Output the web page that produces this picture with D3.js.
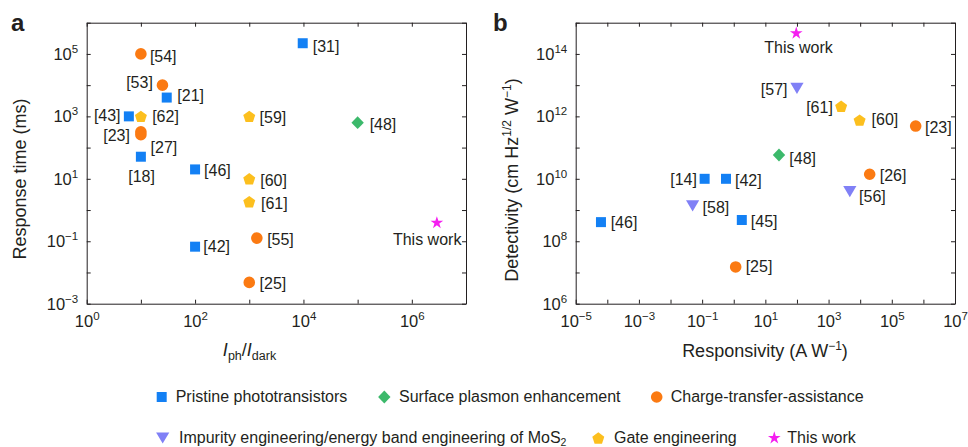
<!DOCTYPE html>
<html><head><meta charset="utf-8">
<script src="https://cdn.jsdelivr.net/npm/d3@7"></script>
<style>
body{margin:0;background:#fff}
svg{display:block}
text{font-family:"Liberation Sans",Arial,Helvetica,sans-serif;fill:#231f20}
</style>
</head><body><svg id="c" width="968" height="447"></svg>
<script>
// ---------- DATA ----------
// Panel a: Iph/Idark vs response time (ms)
const aRefs   = ["[31]","[54]","[53]","[21]","[43]","[62]","[23]","[27]","[18]","[46]","[59]","[48]","[60]","[61]","This work","[55]","[42]","[25]"];
const aGroups = ["pristine","charge","charge","pristine","pristine","gate","charge","charge","pristine","pristine","gate","plasmon","gate","gate","this","charge","pristine","charge"];
const aRatio  = [9.7e3, 10, 25, 30, 6, 10, 10, 10, 10, 100, 1000, 1e5, 1000, 1000, 2.9e6, 1380, 100, 1000];
const aTime   = [2.2e5, 1e5, 1e4, 4e3, 1e3, 1e3, 320, 260, 51, 20, 1e3, 630, 10, 1.85, 0.39, 0.126, 0.067, 0.0048];

// Panel b: responsivity (A/W) vs detectivity (Jones)
const bRefs   = ["This work","[57]","[61]","[60]","[23]","[48]","[26]","[56]","[14]","[42]","[58]","[46]","[45]","[25]"];
const bGroups = ["this","impurity","gate","gate","charge","plasmon","charge","impurity","pristine","pristine","impurity","pristine","pristine","charge"];
const bResp   = [95, 100, 2.5e3, 9.6e3, 5.7e5, 27, 2.0e4, 4.7e3, 0.12, 0.57, 0.05, 6.3e-5, 1.8, 1.15];
const bDet    = [4.6e14, 7.9e12, 2.1e12, 7.6e11, 4.9e11, 5.8e10, 1.4e10, 3.9e9, 1e10, 1e10, 1.35e9, 4.1e8, 4.8e8, 1.5e7];

// Tick exponents
const aXExp = [0,1,2,3,4,5,6,7], aXLab = [0,2,4,6];
const aYExp = [-3,-2,-1,0,1,2,3,4,5,6], aYLab = [-3,-1,1,3,5];
const bXExp = [-5,-4,-3,-2,-1,0,1,2,3,4,5,6,7], bXLab = [-5,-3,-1,1,3,5,7];
const bYExp = [6,7,8,9,10,11,12,13,14,15], bYLab = [6,8,10,12,14];

// Legend
const legendKeys  = ["pristine","plasmon","charge","impurity","gate","this"];
const legendNames = ["Pristine phototransistors","Surface plasmon enhancement","Charge-transfer-assistance","Impurity engineering/energy band engineering of MoS","Gate engineering","This work"];

// ---------- LAYOUT / STYLE ----------
const aLabDx = [10,9,-9.6,10.6,-8.3,11.3,-11,9.7,0.7,9,10.3,12,11,11.7,-9.7,10.3,8.3,10.3];
const aLabDy = [3,2.7,-2.6,-1.7,-1,0.4,4,12.4,20,1,1,1.3,1.7,2,16.6,1.3,0,1];
const aLabAn = ["start","start","end","start","end","start","end","start","middle","start","start","start","start","start","middle","start","start","start"];
const bLabDx = [2.3,-9.4,-8.3,12,9.3,10.3,10,9.3,-7.7,9,10,9.7,9,10];
const bLabDy = [14,1,0.7,-0.7,1.7,3.7,0.7,5,0.7,1.4,1,0.7,1.7,-0.6];
const bLabAn = ["middle","end","end","start","start","start","start","start","end","start","start","start","start","start"];
const legendX = [161.7,384.3,656.7,162.7,598.3,774.3];
const legendTX = [175.7,399,670.7,179,614,787.3];
const legendY = [397,397,397,438,438,438];

const colors = {pristine:"#1380f4",plasmon:"#3cb96b",charge:"#fb7a12",impurity:"#8080f6",gate:"#fcbf1e",this:"#f51ef0"};

function shape(g){
  switch(g){
    case "pristine": return "M-5,-5H5V5H-5Z";
    case "plasmon": return "M0,-6.4L6.2,0L0,6.4L-6.2,0Z";
    case "charge": return d3.symbol(d3.symbolCircle, 106)();
    case "impurity": return "M-6.6,-5.6L6.6,-5.6L0,5.6Z";
    case "gate": {
      const R=6.3, pts=[];
      for(let i=0;i<5;i++){const a=-Math.PI/2+i*2*Math.PI/5; pts.push([R*Math.cos(a), R*Math.sin(a)+0.6]);}
      return "M"+pts.map(p=>p.map(v=>v.toFixed(2)).join(",")).join("L")+"Z";
    }
    case "this": return d3.symbol(d3.symbolStar, 50)();
  }
}

const svg = d3.select("#c");
svg.append("rect").attr("width",968).attr("height",447).attr("fill","#fff");

function pow(sel, e, sup){
  sel.text("10").append("tspan").attr("dy", -7).attr("font-size", sup).text(String(e).replace("-", "\u2212"));
}

function panel(opt){
  const g = svg.append("g");
  const x = d3.scaleLog().domain(opt.xd).range(opt.xr);
  const y = d3.scaleLog().domain(opt.yd).range(opt.yr);
  const xt = opt.xExp.map(e=>Math.pow(10,e)), yt = opt.yExp.map(e=>Math.pow(10,e));

  const bot = g.append("g").attr("transform",`translate(0,${opt.yr[0]})`)
    .call(d3.axisBottom(x).tickValues(xt).tickSizeInner(-4).tickSizeOuter(0).tickFormat(()=>""));
  bot.selectAll(".tick text").each(function(d){
    const e = Math.round(Math.log10(d));
    if(opt.xLab.includes(e)){
      const t = d3.select(this).attr("y",23).attr("dy",null).attr("font-size","16.5px").attr("fill","#231f20");
      pow(t, e, "11.5px");
    }
  });
  g.append("g").attr("transform",`translate(0,${opt.yr[1]})`)
    .call(d3.axisTop(x).tickValues(xt).tickSizeInner(-4).tickSizeOuter(0).tickFormat(()=>""));
  const lef = g.append("g").attr("transform",`translate(${opt.xr[0]},0)`)
    .call(d3.axisLeft(y).tickValues(yt).tickSizeInner(-4).tickSizeOuter(0).tickFormat(()=>""));
  lef.selectAll(".tick text").each(function(d){
    const e = Math.round(Math.log10(d));
    if(opt.yLab.includes(e)){
      const t = d3.select(this).attr("x",-8.5).attr("dy",null).attr("y",5.5).attr("font-size","16.5px").attr("fill","#231f20").attr("text-anchor","end");
      pow(t, e, "11.5px");
    }
  });
  g.append("g").attr("transform",`translate(${opt.xr[1]},0)`)
    .call(d3.axisRight(y).tickValues(yt).tickSizeInner(-4).tickSizeOuter(0).tickFormat(()=>""));
  g.selectAll(".domain, .tick line").attr("stroke","#231f20").attr("stroke-width",1);

  const idx = d3.range(opt.xv.length);
  g.selectAll("path.pt").data(idx).join("path").attr("class","pt")
    .attr("d", i=>shape(opt.grp[i]))
    .attr("fill", i=>colors[opt.grp[i]])
    .attr("transform", i=>`translate(${x(opt.xv[i])},${y(opt.yv[i])})`);
  g.selectAll("text.lab").data(idx).join("text").attr("class","lab")
    .attr("x", i=>x(opt.xv[i])+opt.dx[i])
    .attr("y", i=>y(opt.yv[i])+opt.dy[i]+5.6)
    .attr("text-anchor", i=>opt.an[i])
    .attr("font-size","16px")
    .text(i=>opt.ref[i]);
  return {x,y};
}

panel({xd:[1,1e7], xr:[86.7,466], yd:[1e-3,1e6], yr:[303.7,22.7],
  xExp:aXExp, xLab:aXLab, yExp:aYExp, yLab:aYLab,
  xv:aRatio, yv:aTime, grp:aGroups, ref:aRefs, dx:aLabDx, dy:aLabDy, an:aLabAn});
panel({xd:[1e-5,1e7], xr:[575.7,955], yd:[1e6,1e15], yr:[303.7,22.7],
  xExp:bXExp, xLab:bXLab, yExp:bYExp, yLab:bYLab,
  xv:bResp, yv:bDet, grp:bGroups, ref:bRefs, dx:bLabDx, dy:bLabDy, an:bLabAn});

// Panel letters
svg.append("text").attr("x",11).attr("y",31).attr("font-size","24px").attr("font-weight","bold").text("a");
svg.append("text").attr("x",493).attr("y",31).attr("font-size","24px").attr("font-weight","bold").text("b");

// Axis titles
svg.append("text").attr("transform","translate(26,179) rotate(-90)").attr("text-anchor","middle")
  .attr("font-size","18px").text("Response time (ms)");
const dt = svg.append("text").attr("transform","translate(517.5,180) rotate(-90)").attr("text-anchor","middle").attr("font-size","18px");
dt.append("tspan").text("Detectivity (cm Hz");
dt.append("tspan").attr("dy",-7).attr("font-size","12px").text("1/2");
dt.append("tspan").attr("dy",7).text(" W");
dt.append("tspan").attr("dy",-7).attr("font-size","12px").text("\u22121");
dt.append("tspan").attr("dy",7).text(")");

const xt1 = svg.append("text").attr("x",249.5).attr("y",356).attr("text-anchor","middle").attr("font-size","18px");
xt1.append("tspan").attr("font-style","italic").text("I");
xt1.append("tspan").attr("dy",4).attr("font-size","12.5px").text("ph");
xt1.append("tspan").attr("dy",-4).text("/");
xt1.append("tspan").attr("font-style","italic").text("I");
xt1.append("tspan").attr("dy",4).attr("font-size","12.5px").text("dark");

const xt2 = svg.append("text").attr("x",765).attr("y",357).attr("text-anchor","middle").attr("font-size","18px");
xt2.append("tspan").text("Responsivity (A W");
xt2.append("tspan").attr("dy",-7).attr("font-size","12px").text("\u22121");
xt2.append("tspan").attr("dy",7).text(")");

// Legend
const lg = svg.append("g");
legendKeys.forEach((k,i)=>{
  lg.append("path").attr("d",shape(k)).attr("fill",colors[k])
    .attr("transform",`translate(${legendX[i]},${legendY[i]})`);
  const t = lg.append("text").attr("x",legendTX[i]).attr("y",legendY[i]+5.2).attr("font-size","16px").text(legendNames[i]);
  if(k==="impurity") t.append("tspan").attr("dy",2.5).attr("font-size","10.5px").text("2");
});
</script>
</body></html>
